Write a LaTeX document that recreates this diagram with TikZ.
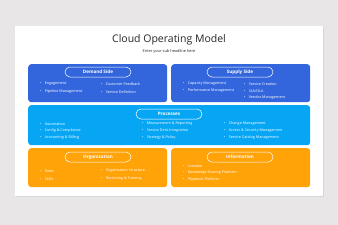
\documentclass[tikz,border=0pt]{standalone}
\usepackage{fontspec}
\setmainfont{Open Sans}
\usetikzlibrary{positioning,shapes.misc}
\definecolor{pagegray}{HTML}{E8E6E6}
\definecolor{shadegray}{HTML}{D6D4D4}
\definecolor{royal}{HTML}{3366DD}
\definecolor{sky}{HTML}{06A6F4}
\definecolor{amber}{HTML}{FFA308}
\definecolor{titlegray}{HTML}{262626}
\tikzset{
  % blocks
  blk/.style={rounded corners=3pt,draw=none,inner sep=0pt,anchor=north west},
  pill/.style={rounded rectangle,draw=white,line width=0.5pt,text=white,
               minimum width=66pt,minimum height=10pt,inner sep=0pt,
               font=\fontsize{4.6}{5}\selectfont\bfseries},
  itm/.style={anchor=west,text=white,inner sep=0pt,
              font=\fontsize{3.7}{4.5}\selectfont},
}
\newcommand{\bul}{\textbullet\hspace{3.2pt}}
\begin{document}
\begin{tikzpicture}[x=1pt,y=-1pt]
\useasboundingbox (0,0) rectangle (338,225);
  \fill[pagegray] (0,0) rectangle (338,225);
  \fill[shadegray] (16,27) rectangle (324,197);
  \fill[white] (15,26) rectangle (323,196);
  \node[text=titlegray,font=\fontsize{10.5}{12}\selectfont] (title) at (169,40) {Cloud Operating Model};
  \node[text=titlegray,font=\fontsize{3.9}{4.5}\selectfont] (sub) at (169,51.5) {Enter your sub headline here};
  % demand side
  \node[blk,fill=royal,minimum width=139pt,minimum height=38pt] (dem) at (28,64) {};
  \node[pill] (demh) at (98,72) {Demand Side};
  \node[itm] (d1) at (40,84) {\bul Engagement};
  \node[itm] (d2) at (40,92) {\bul Pipeline Management};
  \node[itm] (d3) at (101,84) {\bul Customer Feedback};
  \node[itm] (d4) at (101,92) {\bul Service Definition};
  % supply side
  \node[blk,fill=royal,minimum width=139pt,minimum height=38pt] (sup) at (171,64) {};
  \node[pill] (suph) at (240,72) {Supply Side};
  \node[itm] (s1) at (183,84) {\bul Capacity Management};
  \node[itm] (s2) at (183,91) {\bul Performance Management};
  \node[itm] (s3) at (244,84) {\bul Service Creation};
  \node[itm] (s4) at (244,91) {\bul SLA/OLA};
  \node[itm] (s5) at (244,98) {\bul Vendor Management};
  % processes
  \node[blk,fill=sky,minimum width=282pt,minimum height=40pt] (proc) at (28,105) {};
  \node[pill] (proch) at (169,114) {Processes};
  \node[itm] (p1) at (40,124) {\bul Automation};
  \node[itm] (p2) at (40,131) {\bul Config \& Compliance};
  \node[itm] (p3) at (40,138) {\bul Accounting \& Billing};
  \node[itm] (p4) at (142,124) {\bul Measurement \& Reporting};
  \node[itm] (p5) at (142,131) {\bul Service Desk Integration};
  \node[itm] (p6) at (142,138) {\bul Strategy \& Policy};
  \node[itm] (p7) at (224,124) {\bul Change Management};
  \node[itm] (p8) at (224,131) {\bul Access \& Security Management};
  \node[itm] (p9) at (224,138) {\bul Service Catalog Management};
  % organization
  \node[blk,fill=amber,minimum width=139pt,minimum height=39pt] (org) at (28,148) {};
  \node[pill] (orgh) at (98,157) {Organization};
  \node[itm] (o1) at (40,171) {\bul Roles};
  \node[itm] (o2) at (40,179) {\bul Skills};
  \node[itm] (o3) at (101,171) {\bul Organization Structure};
  \node[itm] (o4) at (101,179) {\bul Recruiting \& Training};
  % information
  \node[blk,fill=amber,minimum width=139pt,minimum height=39pt] (inf) at (171,148) {};
  \node[pill] (infh) at (240,157) {Information};
  \node[itm] (i1) at (183,166) {\bul Location};
  \node[itm] (i2) at (183,173) {\bul Knowledge Sharing Platform};
  \node[itm] (i3) at (183,180) {\bul Playbook Platform};
\end{tikzpicture}
\end{document}
